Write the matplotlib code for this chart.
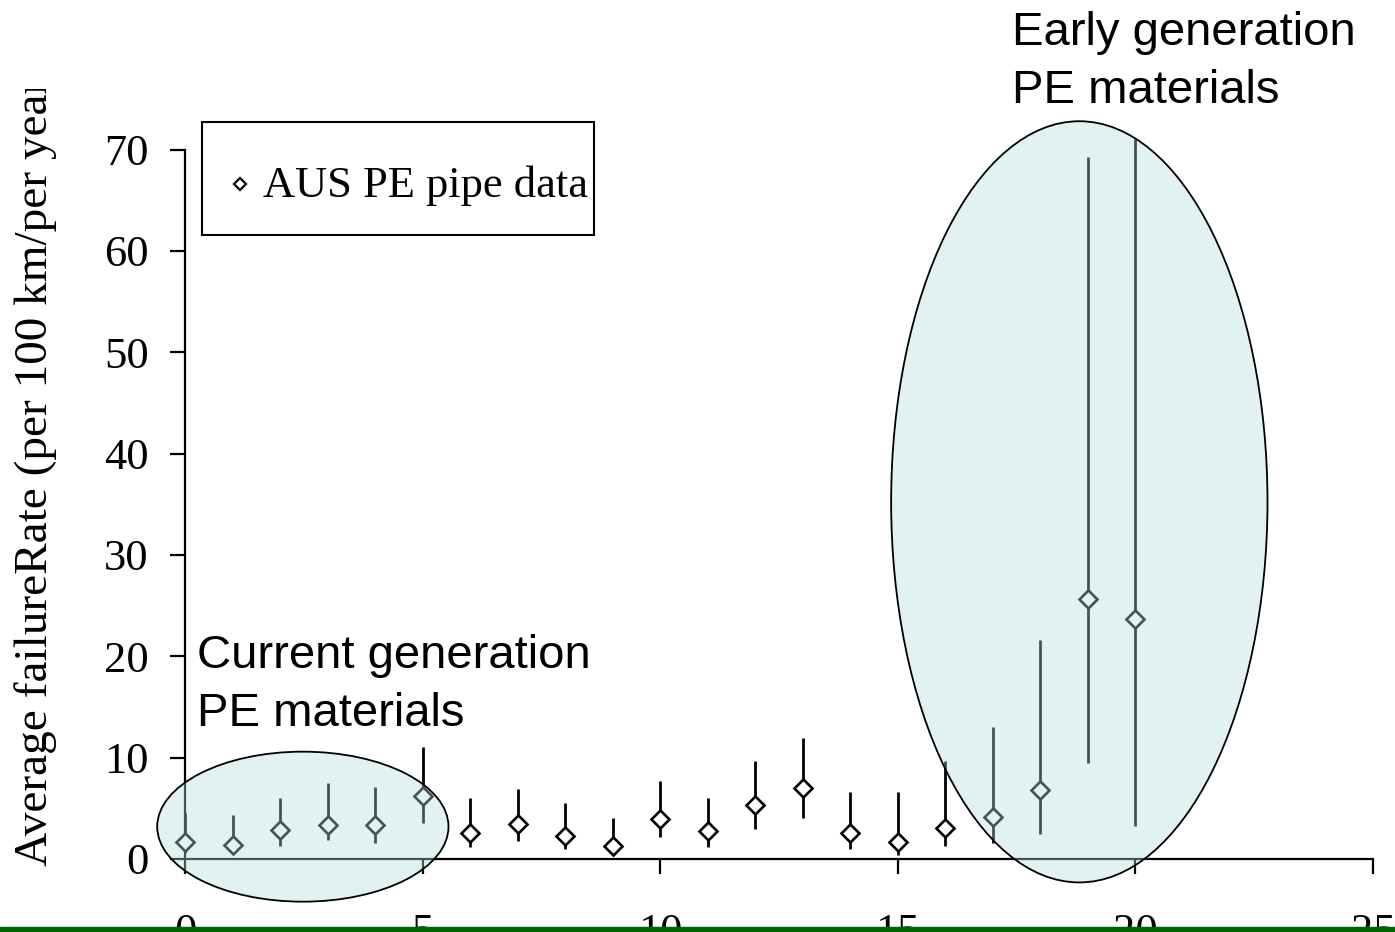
import matplotlib
matplotlib.use('Agg')
import matplotlib.pyplot as plt
from matplotlib.patches import Ellipse, Rectangle
from matplotlib.lines import Line2D
from matplotlib.transforms import Bbox, TransformedBbox
import numpy as np

# pipe age (years) vs average failure rate, with lower / upper bounds
age = list(range(21))
rate = [1.65, 1.38, 2.86, 3.36, 3.36, 6.22, 2.54, 3.42, 2.27, 1.32, 3.95,
        2.80, 5.33, 7.01, 2.54, 1.65, 3.09, 4.18, 6.78, 25.7, 23.7]
rate_low = [0.6, 0.6, 1.28, 1.88, 1.55, 3.52, 1.22, 1.81, 0.95, 0.6, 2.14,
            1.22, 2.96, 4.08, 0.95, 0.39, 1.28, 1.55, 2.44, 9.51, 3.26]
rate_high = [4.5, 4.34, 5.99, 7.47, 7.14, 11.09, 5.99, 6.87, 5.49, 4.02, 7.70,
             5.99, 9.70, 11.91, 6.58, 6.58, 9.67, 13.06, 21.6, 69.3, 71.0]
x_ticks = [0, 5, 10, 15, 20, 25]
y_ticks = [0, 10, 20, 30, 40, 50, 60, 70]
series_label = 'AUS PE pipe data'
y_title = 'Average failureRate (per 100 km/per year)'
note_current = 'Current generation\nPE materials'
note_early = 'Early generation\nPE materials'

plt.rcParams['font.family'] = ['Liberation Serif', 'DejaVu Serif']

W, H = 1395, 932
fig = plt.figure(figsize=(W / 100, H / 100), dpi=100)
ax = fig.add_axes([185 / W, 1 - 859 / H, (1373 - 185) / W, (859 - 149.5) / H])
ax.patch.set_alpha(0)

rate = np.array(rate)
err = [rate - np.array(rate_low), np.array(rate_high) - rate]
cont = ax.errorbar(age, rate, yerr=err, fmt='D', ms=9, mfc='white', mec='black',
                   mew=1.9, ecolor='black', elinewidth=2, capsize=0, zorder=3)
for a in cont.get_children():
    a.set_clip_on(False)

ax.set_xlim(0, 25)
ax.set_ylim(0, 70)
ax.set_xticks(x_ticks)
ax.set_yticks(y_ticks)
ax.spines['top'].set_visible(False)
ax.spines['right'].set_visible(False)
ax.spines['left'].set_linewidth(1.6)
ax.spines['bottom'].set_linewidth(1.6)
ax.tick_params(axis='both', direction='out', length=11, width=1.6, labelsize=32)
ax.tick_params(axis='x', pad=28)
ax.tick_params(axis='y', pad=15)

# shaded ellipses grouping the two material generations
shade = (0.71, 0.87, 0.87, 0.38)
ax.add_patch(Ellipse((2.48, 3.19), 6.13, 14.8, fc=shade, ec='black', lw=1.3,
                     zorder=5, clip_on=False))
ax.add_patch(Ellipse((18.82, 35.24), 7.92, 75.1, fc=shade, ec='black', lw=1.3,
                     zorder=5, clip_on=False))

fig.text(197 / W, 1 - 634 / H, note_current, family='Liberation Sans', fontsize=34,
         va='top', ha='left', linespacing=1.4)
fig.text(1012 / W, 1 - 11 / H, note_early, family='Liberation Sans', fontsize=34,
         va='top', ha='left', linespacing=1.4)

# legend box
fig.add_artist(Rectangle((202 / W, 1 - 235 / H), (594 - 202) / W, (235 - 122) / H,
                         transform=fig.transFigure, fill=False, ec='black', lw=1.5))
fig.add_artist(Line2D([240 / W], [1 - 184 / H], marker='D', ms=6.5, mfc='white',
                      mec='black', mew=1.6, transform=fig.transFigure))
fig.text(263 / W, 1 - 197 / H, series_label, fontsize=32, va='baseline', ha='left')

# y axis title, cut off at the top like the original
t = fig.text(36 / W, 1 - 866 / H, y_title, rotation=90, ha='center', va='bottom',
             fontsize=34)
t.set_clip_on(True)
t.set_clip_box(TransformedBbox(Bbox([[0, 0], [1, 1 - 89 / H]]), fig.transFigure))

# green strip at the bottom edge
fig.add_artist(Rectangle((0, 0), 1, 5 / H, transform=fig.transFigure,
                         color='#006400', zorder=10))

fig.savefig('out.png', dpi=100)
